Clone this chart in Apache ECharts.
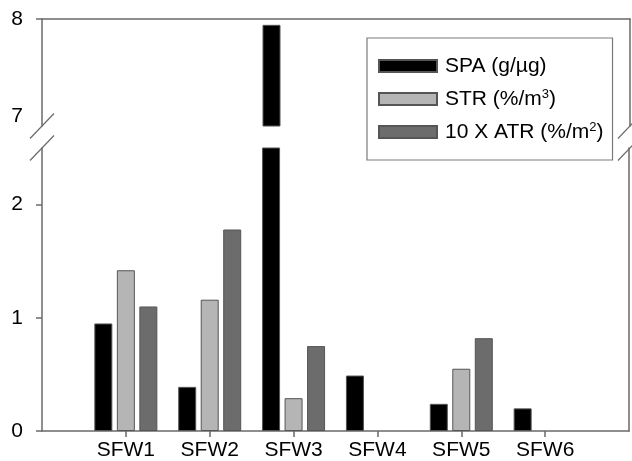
<!DOCTYPE html>
<html>
<head>
<meta charset="utf-8">
<script src="https://cdn.jsdelivr.net/npm/echarts@6/dist/echarts.min.js"></script>
<style>
  html, body { margin: 0; padding: 0; background: #fff; }
  #chart { width: 632px; height: 461px; }
</style>
</head>
<body>
<div id="chart"></div>
<script>
// Sites and measured quantities
const categories = ['SFW1', 'SFW2', 'SFW3', 'SFW4', 'SFW5', 'SFW6'];
const spa = [0.95, 0.39, 7.94, 0.49, 0.24, 0.20];
const str = [1.42, 1.16, 0.29, null, 0.55, null];
const atr = [1.10, 1.78, 0.75, null, 0.82, null];
const seriesNames = ['SPA (g/µg)', 'STR (%/m³)', '10 X ATR (%/m²)'];

// Broken value axis: lower segment and upper segment
const lowerRange = [0, 2.5];
const upperRange = [6.9, 8];
const lowerTickValues = [0, 1, 2];
const upperLabelValues = [7, 8];
const upperTickValues = [8];

const FONT = '"Liberation Sans", Arial, Helvetica, sans-serif';
const AXIS_COLOR = '#6a6a6a';
const BORDER_COLOR = '#555555';
const FILLS = ['#000000', '#b5b5b5', '#6c6c6c'];

// Layout of the two stacked grids
const L = 42, R = 630, W = 632;
const UP_TOP = 19, UP_BOT = 126, LO_TOP = 148, LO_BOT = 431;

// Pad the category axis with an empty slot at each end
const pad = arr => [null].concat(arr, [null]);
const xCats = [''].concat(categories, ['']);

const chart = echarts.init(document.getElementById('chart'), null, { renderer: 'canvas' });

function xAxis(gridIndex, top) {
  return {
    type: 'category',
    gridIndex: gridIndex,
    data: xCats,
    boundaryGap: false,
    position: top ? 'top' : 'bottom',
    axisLine: { show: true, onZero: false, lineStyle: { color: AXIS_COLOR, width: 1.5 } },
    axisTick: {
      show: !top,
      length: 6,
      interval: (i) => i > 0 && i < xCats.length - 1,
      lineStyle: { color: AXIS_COLOR, width: 1.5 }
    },
    axisLabel: {
      show: !top,
      interval: 0,
      margin: 9,
      color: '#000',
      fontSize: 21,
      fontFamily: FONT
    },
    splitLine: { show: false }
  };
}

function yAxisLeft(gridIndex, range, labels, ticks) {
  return {
    type: 'value',
    gridIndex: gridIndex,
    min: range[0],
    max: range[1],
    position: 'left',
    axisLine: { show: true, onZero: false, lineStyle: { color: AXIS_COLOR, width: 1.5 } },
    axisTick: { show: true, length: 6, customValues: ticks, lineStyle: { color: AXIS_COLOR, width: 1.5 } },
    axisLabel: { show: true, customValues: labels, margin: 19, color: '#000', fontSize: 21, fontFamily: FONT },
    splitLine: { show: false }
  };
}

function yAxisRight(gridIndex, range) {
  return {
    type: 'value',
    gridIndex: gridIndex,
    min: range[0],
    max: range[1],
    position: 'right',
    axisLine: { show: true, onZero: false, lineStyle: { color: AXIS_COLOR, width: 1.5 } },
    axisTick: { show: false },
    axisLabel: { show: false },
    splitLine: { show: false }
  };
}

function bars(name, data, idx, upper) {
  return {
    name: name,
    type: 'bar',
    xAxisIndex: upper ? 0 : 1,
    yAxisIndex: upper ? 0 : 2,
    data: pad(data),
    barWidth: 18,
    barGap: '25%',
    clip: true,
    itemStyle: { color: FILLS[idx], borderColor: BORDER_COLOR, borderWidth: 1 },
    emphasis: { disabled: true }
  };
}

// Diagonal break marks across the left and right axis lines
function slash(cx, cy) {
  return {
    type: 'line',
    shape: { x1: cx - 12, y1: cy + 12.5, x2: cx + 12, y2: cy - 12.5 },
    style: { stroke: AXIS_COLOR, lineWidth: 1.2 },
    z: 100
  };
}

const supFormat = (name) => name.replace('³', '{sup|3}').replace('²', '{sup|2}');

chart.setOption({
  animation: false,
  backgroundColor: '#ffffff',
  grid: [
    { left: L, right: W - R, top: UP_TOP, height: UP_BOT - UP_TOP, containLabel: false },
    { left: L, right: W - R, top: LO_TOP, height: LO_BOT - LO_TOP, containLabel: false }
  ],
  xAxis: [xAxis(0, true), xAxis(1, false)],
  yAxis: [
    yAxisLeft(0, upperRange, upperLabelValues, upperTickValues),
    yAxisRight(0, upperRange),
    yAxisLeft(1, lowerRange, lowerTickValues, lowerTickValues),
    yAxisRight(1, lowerRange)
  ],
  legend: {
    data: seriesNames,
    orient: 'vertical',
    left: 367,
    top: 38,
    padding: [17, 9, 17, 11],
    itemGap: 11,
    itemWidth: 58,
    itemHeight: 12,
    icon: 'rect',
    backgroundColor: '#ffffff',
    borderColor: '#7a7a7a',
    borderWidth: 1.2,
    selectedMode: false,
    formatter: supFormat,
    textStyle: {
      color: '#000',
      fontSize: 21,
      fontFamily: FONT,
      lineHeight: 22,
      padding: [0, 0, 0, 3],
      rich: {
        sup: { fontSize: 13, fontFamily: FONT, color: '#000', verticalAlign: 'top', lineHeight: 13 }
      }
    }
  },
  series: [
    bars(seriesNames[0], spa, 0, false),
    bars(seriesNames[1], str, 1, false),
    bars(seriesNames[2], atr, 2, false),
    bars(seriesNames[0], spa, 0, true),
    bars(seriesNames[1], str, 1, true),
    bars(seriesNames[2], atr, 2, true)
  ],
  graphic: [
    slash(L, UP_BOT), slash(L, LO_TOP),
    slash(R, UP_BOT), slash(R, LO_TOP)
  ]
});
</script>
</body>
</html>
